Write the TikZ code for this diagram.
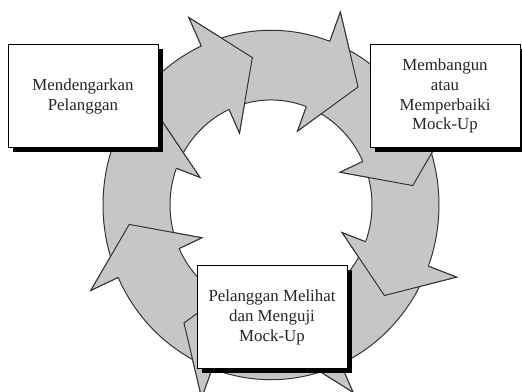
\documentclass[tikz,border=0pt]{standalone}
\usepackage{fontspec}
\setmainfont{Liberation Serif}
\usetikzlibrary{shadows}

\tikzset{
    ringarrow/.style={fill=gray!45, draw=black!80, line width=0.7pt, line join=miter},
    stagebox/.style={draw=black, fill=white, line width=0.6pt,
        minimum width=3.75cm, minimum height=2.575cm, align=center,
        text=black!85, font=\fontsize{12}{14.2}\selectfont,
        drop shadow={shadow xshift=3.5pt, shadow yshift=-3.5pt, fill=black, opacity=1}}
}

\begin{document}
\begin{tikzpicture}[x=0.025cm, y=0.025cm]
\useasboundingbox (0,0) rectangle (522,392);

% Ring of curved arrows (tip angles, clockwise)
\begin{scope}[shift={(271,187)}, yscale=1.04]
\foreach \t in {97.5, 52.5, 7.5, -37.5, -82.5, -127.5, -172.5, -217.5}
    \filldraw[ringarrow] ({\t+58}:168) arc[start angle=\t+58, end angle=\t+17, radius=4.2cm]
        -- ({\t+17}:198) -- (\t:143) -- ({\t+17}:76) -- ({\t+17}:101)
        arc[start angle=\t+17, end angle=\t+58, radius=2.525cm] -- cycle;

% Heads again, on top of the next tail
\foreach \t in {97.5, 52.5, 7.5, -37.5, -82.5, -127.5, -172.5, -217.5}
    \filldraw[ringarrow] ({\t+17}:168) -- ({\t+17}:198) -- (\t:143) -- ({\t+17}:76) -- ({\t+17}:101);
\end{scope}

% Stages
\node[stagebox] (listen) at (83,296) {Mendengarkan\\Pelanggan};
\node[stagebox] (build) at (445,296) {Membangun\\atau\\Memperbaiki\\Mock-Up};
\node[stagebox] (test) at (272,75) {Pelanggan Melihat\\dan Menguji\\Mock-Up};
\end{tikzpicture}
\end{document}
